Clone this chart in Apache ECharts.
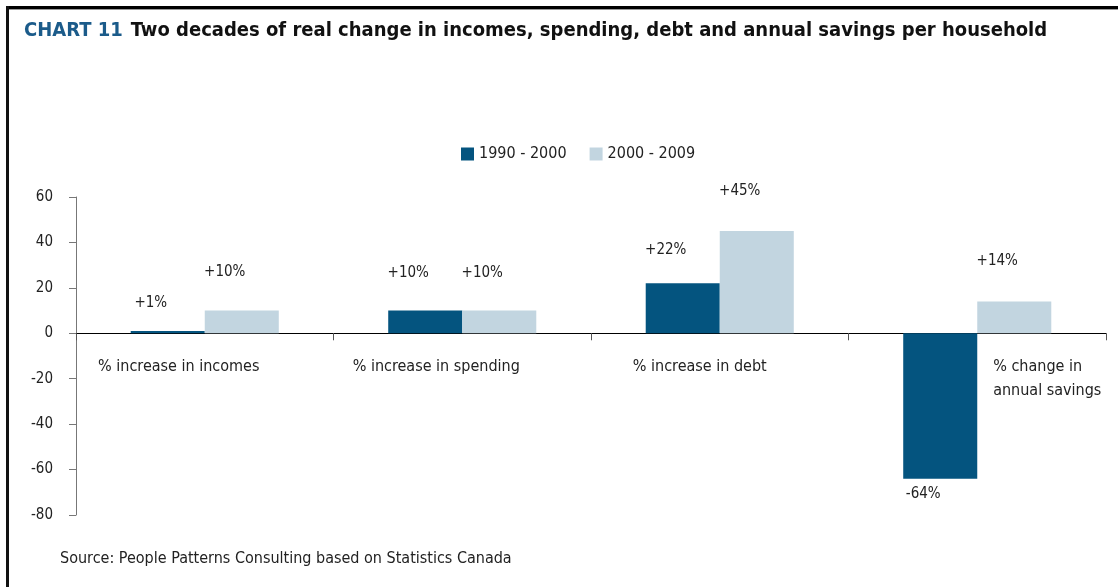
<!DOCTYPE html>
<html>
<head>
<meta charset="utf-8">
<script src="https://cdn.jsdelivr.net/npm/echarts@6/dist/echarts.min.js"></script>
<style>
  html, body { margin: 0; padding: 0; background: #fff; }
  #chart { width: 1118px; height: 587px; }
</style>
</head>
<body>
<div id="chart"></div>
<script>
// Household change figures, per cent
const categories = ['% increase in incomes', '% increase in spending', '% increase in debt', '% change in\nannual savings'];
const seriesNames = ['1990 - 2000', '2000 - 2009'];
const values1990s = [1, 10, 22, -64];
const values2000s = [10, 10, 45, 14];
const yTicks = { min: -80, max: 60, step: 20 };

const FONT = '"DejaVu Sans Condensed", "Liberation Sans Narrow", "Arial Narrow", sans-serif';
const DARK = '#04547f';
const LIGHT = '#c2d5e0';
const TEXT = '#222';

// Vertical nudges for each value label (pixels beyond the default spot)
const lift1990s = [6, 16, 12, -6];
const lift2000s = [17, 16, 18, 19];

function fmt(v) { return (v > 0 ? '+' : '') + v + '%'; }

function makeData(vals, lifts) {
  return vals.map((v, i) => ({
    value: v,
    label: {
      position: v < 0 ? 'bottom' : 'top',
      offset: [-17, v < 0 ? lifts[i] : -lifts[i]]
    }
  }));
}

// Category labels are shifted individually with rich-text padding
const labelRich = {
  c0: { fontFamily: FONT, fontSize: 16, color: TEXT, lineHeight: 24, padding: [0, 52, 0, 0] },
  c1: { fontFamily: FONT, fontSize: 16, color: TEXT, lineHeight: 24, padding: [0, 52, 0, 0] },
  c2: { fontFamily: FONT, fontSize: 16, color: TEXT, lineHeight: 24, padding: [0, 40, 0, 0] },
  c3: { fontFamily: FONT, fontSize: 16, color: TEXT, lineHeight: 24, align: 'left', padding: [0, 0, 0, 140] }
};

const chart = echarts.init(document.getElementById('chart'), null, { renderer: 'canvas' });

const gridTop = 197, gridBottom = 72, plotH = 587 - gridTop - gridBottom;
// distance from the plot's bottom edge up to the zero line
const zeroLift = plotH * (0 - yTicks.min) / (yTicks.max - yTicks.min);

chart.setOption({
  animation: false,
  backgroundColor: '#fff',
  textStyle: { fontFamily: FONT },
  title: {
    left: 19, top: 16,
    text: '{a|CHART 11}{b|Two decades of real change in incomes, spending, debt and annual savings per household}',
    textStyle: {
      rich: {
        a: { fontFamily: FONT, fontWeight: 'bold', fontSize: 20, color: '#1b5b8a', padding: [0, 8, 0, 0] },
        b: { fontFamily: FONT, fontWeight: 'bold', fontSize: 20, color: '#111' }
      }
    }
  },
  legend: {
    data: seriesNames,
    left: 456,
    top: 141,
    itemWidth: 13, itemHeight: 13, itemGap: 23,
    icon: 'rect',
    textStyle: { fontFamily: FONT, fontSize: 16, color: TEXT }
  },
  grid: { left: 76, right: 12, top: gridTop, bottom: gridBottom, containLabel: false },
  xAxis: {
    type: 'category',
    data: categories,
    position: 'bottom',
    offset: -zeroLift,
    axisLine: { onZero: false, lineStyle: { color: '#000', width: 1 } },
    axisTick: { show: true, length: 7, lineStyle: { color: '#555' } },
    axisLabel: {
      margin: 22,
      interval: 0,
      formatter: (val, idx) => {
        if (idx === 3) return val.split('\n').map(s => '{c3|' + s + '}').join('\n');
        return '{c' + idx + '|' + val + '}';
      },
      rich: labelRich
    }
  },
  yAxis: {
    type: 'value',
    min: yTicks.min, max: yTicks.max, interval: yTicks.step,
    axisLine: { show: true, lineStyle: { color: '#777' } },
    axisTick: { show: true, length: 7, lineStyle: { color: '#777' } },
    splitLine: { show: false },
    axisLabel: { margin: 23, fontFamily: FONT, fontSize: 15, color: TEXT }
  },
  series: [
    {
      name: seriesNames[0], type: 'bar', data: makeData(values1990s, lift1990s),
      itemStyle: { color: DARK },
      barGap: '0%', barCategoryGap: '42.5%',
      label: { show: true, distance: 14, formatter: p => fmt(p.value), fontFamily: FONT, fontSize: 15, color: TEXT }
    },
    {
      name: seriesNames[1], type: 'bar', data: makeData(values2000s, lift2000s),
      itemStyle: { color: LIGHT },
      barGap: '0%', barCategoryGap: '42.5%',
      label: { show: true, distance: 14, formatter: p => fmt(p.value), fontFamily: FONT, fontSize: 15, color: TEXT }
    }
  ],
  graphic: [
    { type: 'rect', shape: { x: 6, y: 6, width: 1112, height: 3 }, style: { fill: '#000' }, silent: true },
    { type: 'rect', shape: { x: 9, y: 9, width: 1109, height: 1 }, style: { fill: '#999' }, silent: true },
    { type: 'rect', shape: { x: 6, y: 6, width: 3, height: 581 }, style: { fill: '#111' }, silent: true },
    {
      type: 'text', left: 60, top: 551,
      style: { text: 'Source: People Patterns Consulting based on Statistics Canada', font: '16px ' + FONT, fill: TEXT }
    }
  ]
});
</script>
</body>
</html>
